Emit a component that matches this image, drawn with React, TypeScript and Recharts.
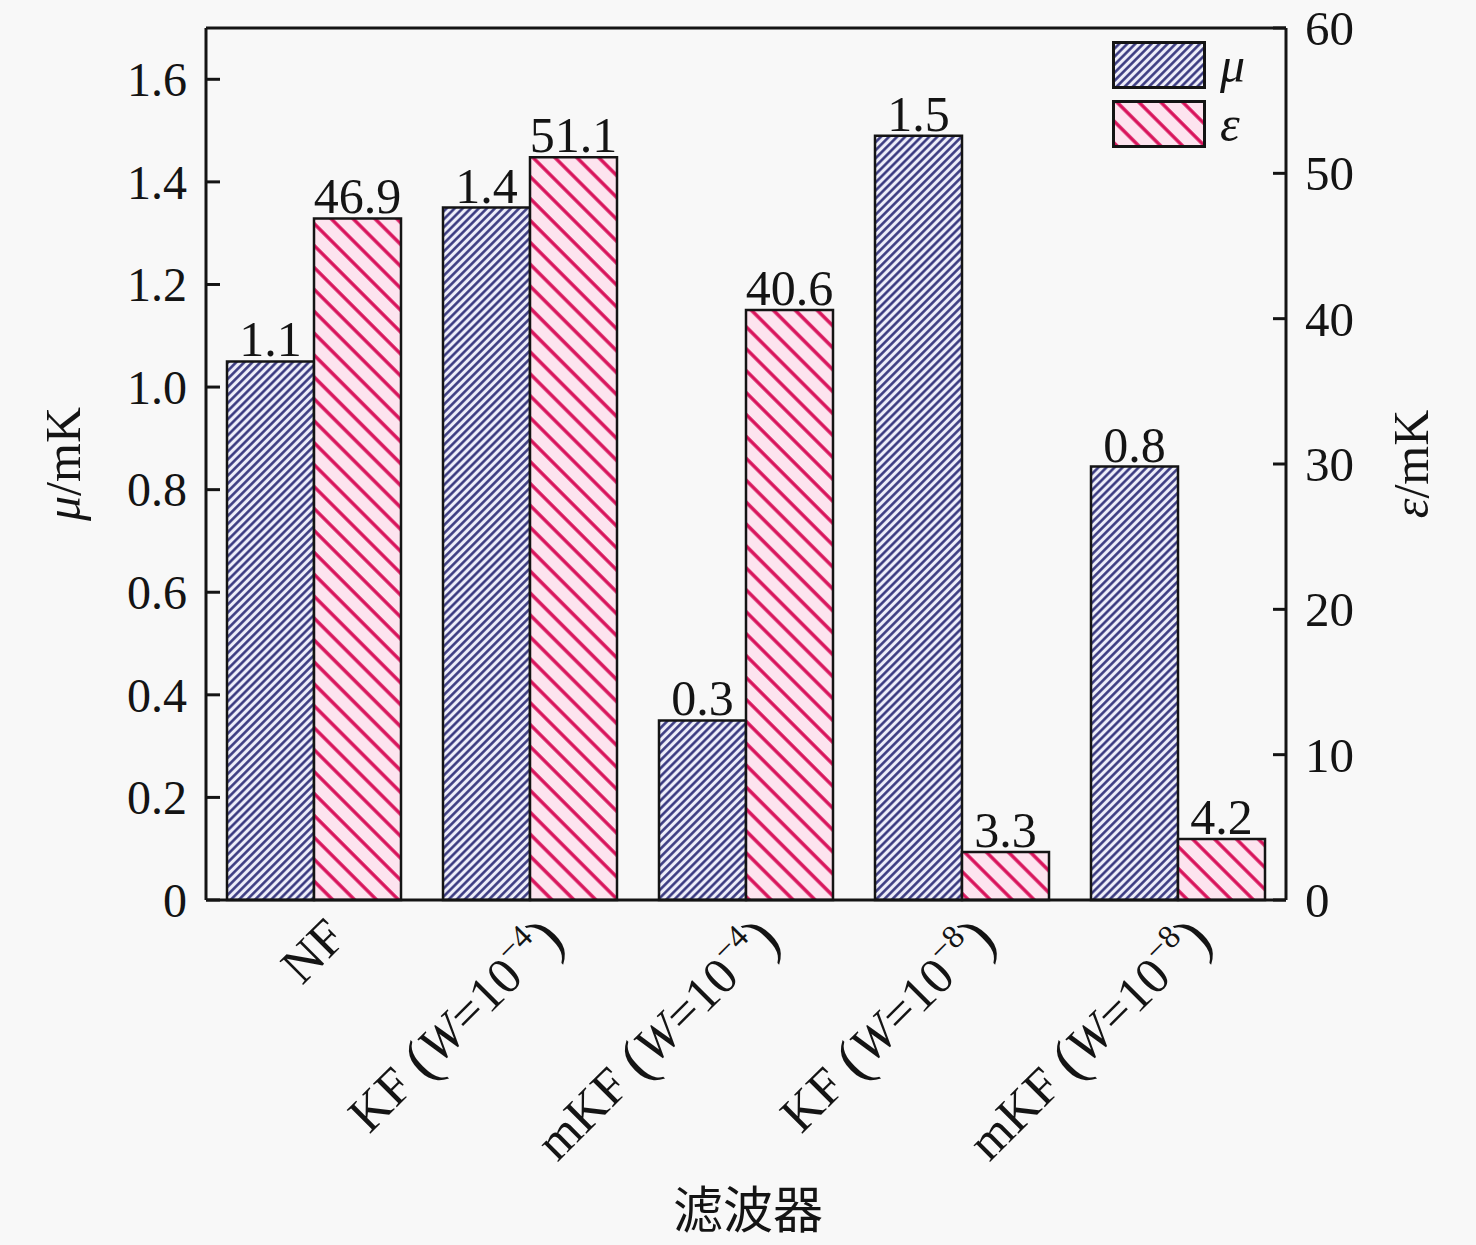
import React from 'react'
import {
  BarChart,
  Bar,
  XAxis,
  YAxis,
  LabelList,
  Legend,
  ReferenceLine,
  Label,
} from 'recharts'

// filters on the x axis
const filterNames = ['NF', 'KF', 'mKF', 'KF', 'mKF']
const filterExponents = ['', '−4', '−4', '−8', '−8']
const categories = ['NF', 'KF (W=10−4)', 'mKF (W=10−4)', 'KF (W=10−8)', 'mKF (W=10−8)']

// mean error μ (left axis, mK) and its printed labels
const muValues = [1.05, 1.35, 0.35, 1.49, 0.845]
const muLabels = ['1.1', '1.4', '0.3', '1.5', '0.8']

// error ε (right axis, mK) and its printed labels
const epsValues = [46.9, 51.1, 40.6, 3.3, 4.2]
const epsLabels = ['46.9', '51.1', '40.6', '3.3', '4.2']

const leftTicks = [0, 0.2, 0.4, 0.6, 0.8, 1.0, 1.2, 1.4, 1.6]
const rightTicks = [0, 10, 20, 30, 40, 50, 60]

const data = categories.map((name, i) => ({
  name,
  mu: muValues[i],
  eps: epsValues[i],
  muLabel: muLabels[i],
  epsLabel: epsLabels[i],
}))

const SERIF = '"Liberation Serif", "Times New Roman", serif'
const INK = '#141414'

function LeftTick(props: any) {
  const { x, y, payload } = props
  const v = payload.value
  return (
    <g>
      <line x1={x} y1={y} x2={x + 14} y2={y} stroke={INK} strokeWidth={3} />
      <text x={x - 19} y={y} dy='0.35em' textAnchor='end' fontFamily={SERIF} fontSize={48} fill={INK}>
        {v === 0 ? '0' : v.toFixed(1)}
      </text>
    </g>
  )
}

function RightTick(props: any) {
  const { x, y, payload } = props
  return (
    <g>
      <line x1={x} y1={y} x2={x - 13} y2={y} stroke={INK} strokeWidth={3} />
      <text x={x + 19} y={y} dy='0.35em' textAnchor='start' fontFamily={SERIF} fontSize={49} fill={INK}>
        {payload.value}
      </text>
    </g>
  )
}

function FilterTick(props: any) {
  const { x, y, index } = props
  const ax = x + 34
  const ay = y + 40
  const exp = filterExponents[index]
  return (
    <text
      x={ax}
      y={ay}
      transform={`rotate(-45, ${ax}, ${ay})`}
      textAnchor='end'
      fontFamily={SERIF}
      fontSize={51}
      fill={INK}
    >
      {filterNames[index]}
      {exp && (
        <>
          <tspan> </tspan>
          <tspan fontSize={60} dy={4}>(</tspan>
          <tspan dy={-4} fontStyle='italic'>W</tspan>
          <tspan>=10</tspan>
          <tspan dy={-22} fontSize={33}>{exp}</tspan>
          <tspan dy={26} fontSize={60}>)</tspan>
        </>
      )}
    </text>
  )
}

function renderLegend() {
  const items = [
    { id: 'muPattern', sym: 'μ' },
    { id: 'epsPattern', sym: 'ε' },
  ]
  return (
    <div style={{ display: 'flex', flexDirection: 'column', gap: 11 }}>
      {items.map((it) => (
        <div key={it.id} style={{ display: 'flex', alignItems: 'center', height: 48 }}>
          <svg width={94} height={48}>
            <rect x={1.5} y={1.5} width={91} height={45} fill={`url(#${it.id})`} stroke={INK} strokeWidth={3} />
          </svg>
          <span style={{ marginLeft: 14, fontFamily: SERIF, fontStyle: 'italic', fontSize: 50, color: INK, lineHeight: '48px' }}>
            {it.sym}
          </span>
        </div>
      ))}
    </div>
  )
}

export default function App() {
  return (
    <div style={{ width: 1476, height: 1245, background: '#f8f8f8', position: 'relative' }}>
      <style>{'body{margin:0}'}</style>
      <svg width={0} height={0} style={{ position: 'absolute' }}>
        <defs>
          <pattern id='muPattern' patternUnits='userSpaceOnUse' width={5.7} height={5.7} patternTransform='rotate(45)'>
            <rect width={5.7} height={5.7} fill='#eeeefa' />
            <line x1={1.4} y1={0} x2={1.4} y2={5.7} stroke='#34347c' strokeWidth={2.5} />
          </pattern>
          <pattern id='epsPattern' patternUnits='userSpaceOnUse' width={15.5} height={15.5} patternTransform='rotate(-45)'>
            <rect width={15.5} height={15.5} fill='#fde4ef' />
            <line x1={2} y1={0} x2={2} y2={15.5} stroke='#d8125a' strokeWidth={3.4} />
          </pattern>
        </defs>
      </svg>
      <BarChart
        width={1476}
        height={1245}
        data={data}
        margin={{ top: 28, right: 90, left: 106, bottom: 95 }}
        barGap={0}
        barSize={87}
      >
        <XAxis
          dataKey='name'
          height={250}
          interval={0}
          tick={<FilterTick />}
          tickLine={false}
          tickSize={0}
          tickMargin={0}
          axisLine={{ stroke: INK, strokeWidth: 3 }}
        >
          <Label
            content={(p: any) => {
              const vb = p.viewBox
              return (
                <text
                  x={vb.x + vb.width / 2 + 2}
                  y={1228}
                  textAnchor='middle'
                  fontFamily='"Noto Sans CJK SC", sans-serif'
                  fontSize={50}
                  fill={INK}
                >
                  滤波器
                </text>
              )
            }}
          />
        </XAxis>
        <YAxis
          yAxisId='left'
          orientation='left'
          width={100}
          domain={[0, 1.7]}
          ticks={leftTicks}
          interval={0}
          tick={<LeftTick />}
          tickLine={false}
          tickSize={0}
          tickMargin={0}
          axisLine={{ stroke: INK, strokeWidth: 3 }}
        >
          <Label
            content={(p: any) => {
              const vb = p.viewBox
              const cx = 62
              const cy = vb.y + vb.height / 2
              return (
                <text x={cx} y={cy} transform={`rotate(-90, ${cx}, ${cy})`} textAnchor='middle' dy='0.35em' fontFamily={SERIF} fontSize={50} fill={INK}>
                  <tspan fontStyle='italic'>μ</tspan>/mK
                </text>
              )
            }}
          />
        </YAxis>
        <YAxis
          yAxisId='right'
          orientation='right'
          width={100}
          domain={[0, 60]}
          ticks={rightTicks}
          interval={0}
          tick={<RightTick />}
          tickLine={false}
          tickSize={0}
          tickMargin={0}
          axisLine={{ stroke: INK, strokeWidth: 3 }}
        >
          <Label
            content={(p: any) => {
              const vb = p.viewBox
              const cx = 1410
              const cy = vb.y + vb.height / 2
              return (
                <text x={cx} y={cy} transform={`rotate(-90, ${cx}, ${cy})`} textAnchor='middle' dy='0.35em' fontFamily={SERIF} fontSize={50} fill={INK}>
                  <tspan fontStyle='italic'>ε</tspan>/mK
                </text>
              )
            }}
          />
        </YAxis>
        <ReferenceLine yAxisId='left' y={1.7} stroke={INK} strokeWidth={3} />
        <Legend
          content={renderLegend}
          layout='horizontal'
          verticalAlign='middle'
          wrapperStyle={{ top: 41, left: 1112, width: 'auto' }}
        />
        <Bar
          yAxisId='left'
          dataKey='mu'
          name='μ'
          fill='url(#muPattern)'
          stroke={INK}
          strokeWidth={2.5}
          isAnimationActive={false}
        >
          <LabelList dataKey='muLabel' position='top' offset={5} fontFamily={SERIF} fontSize={50} fill={INK} />
        </Bar>
        <Bar
          yAxisId='right'
          dataKey='eps'
          name='ε'
          fill='url(#epsPattern)'
          stroke={INK}
          strokeWidth={2.5}
          isAnimationActive={false}
        >
          <LabelList dataKey='epsLabel' position='top' offset={5} fontFamily={SERIF} fontSize={50} fill={INK} />
        </Bar>
      </BarChart>
    </div>
  )
}
